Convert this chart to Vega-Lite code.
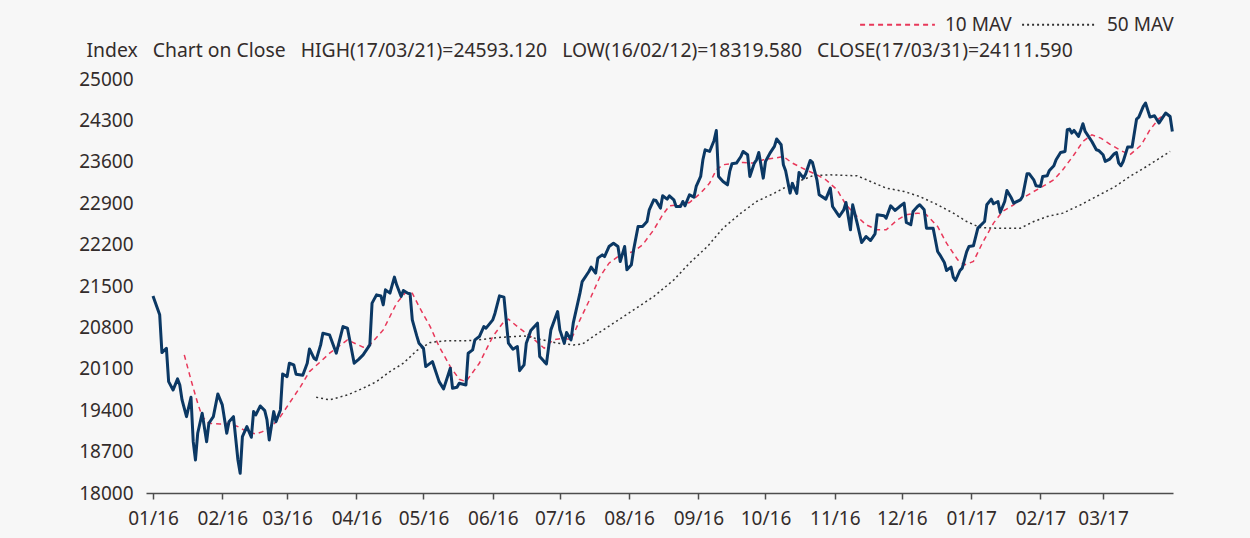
{
  "$schema": "https://vega.github.io/schema/vega-lite/v6.json",
  "autosize": {"type": "none"},
  "width": 1027,
  "height": 414,
  "padding": {"left": 146, "top": 79, "right": 77, "bottom": 45},
  "background": "#f7f7f7",
  "config": {
    "view": {"stroke": null},
    "font": "Noto Sans",
    "axis": {"labelFont": "Noto Sans", "titleFont": "Noto Sans", "labelColor": "#332c2b", "titleColor": "#332c2b"},
    "legend": {"labelFont": "Noto Sans", "labelColor": "#332c2b"}
  },
  "datasets": {
    "close": [
      {"date":"2016-01-01","close":21333},{"date":"2016-01-04","close":21012},{"date":"2016-01-05","close":20374},{"date":"2016-01-07","close":20448},{"date":"2016-01-08","close":19883},{"date":"2016-01-10","close":19743},{"date":"2016-01-12","close":19929},{"date":"2016-01-13","close":19827},{"date":"2016-01-14","close":19574},{"date":"2016-01-16","close":19291},{"date":"2016-01-18","close":19619},{"date":"2016-01-19","close":18868},{"date":"2016-01-20","close":18558},{"date":"2016-01-21","close":19010},{"date":"2016-01-23","close":19348},{"date":"2016-01-25","close":18868},{"date":"2016-01-26","close":19179},{"date":"2016-01-28","close":19291},{"date":"2016-01-30","close":19675},
      {"date":"2016-02-01","close":19489},{"date":"2016-02-03","close":19010},{"date":"2016-02-04","close":19206},{"date":"2016-02-06","close":19291},{"date":"2016-02-08","close":18558},{"date":"2016-02-09","close":18333},{"date":"2016-02-10","close":18952},{"date":"2016-02-12","close":19122},{"date":"2016-02-14","close":18942},{"date":"2016-02-15","close":19376},{"date":"2016-02-16","close":19320},{"date":"2016-02-18","close":19472},{"date":"2016-02-20","close":19393},{"date":"2016-02-21","close":19235},{"date":"2016-02-22","close":18897},{"date":"2016-02-24","close":19376},{"date":"2016-02-25","close":19206},{"date":"2016-02-27","close":19404},{"date":"2016-02-28","close":20013},
      {"date":"2016-03-01","close":19968},{"date":"2016-03-02","close":20194},{"date":"2016-03-04","close":20166},{"date":"2016-03-05","close":20008},{"date":"2016-03-08","close":19991},{"date":"2016-03-10","close":20194},{"date":"2016-03-11","close":20436},{"date":"2016-03-13","close":20279},{"date":"2016-03-14","close":20250},{"date":"2016-03-16","close":20504},{"date":"2016-03-17","close":20702},{"date":"2016-03-20","close":20673},{"date":"2016-03-23","close":20364},{"date":"2016-03-26","close":20814},{"date":"2016-03-28","close":20786},{"date":"2016-03-31","close":20194},
      {"date":"2016-04-02","close":20260},{"date":"2016-04-04","close":20335},{"date":"2016-04-07","close":20504},{"date":"2016-04-08","close":21210},{"date":"2016-04-10","close":21350},{"date":"2016-04-12","close":21330},{"date":"2016-04-13","close":21181},{"date":"2016-04-14","close":21435},{"date":"2016-04-16","close":21380},{"date":"2016-04-18","close":21650},{"date":"2016-04-19","close":21520},{"date":"2016-04-21","close":21322},{"date":"2016-04-22","close":21424},{"date":"2016-04-24","close":21378},{"date":"2016-04-25","close":21370},{"date":"2016-04-26","close":20927},{"date":"2016-04-28","close":20656},{"date":"2016-04-29","close":20533},
      {"date":"2016-05-01","close":20448},{"date":"2016-05-02","close":20137},{"date":"2016-05-05","close":20222},{"date":"2016-05-06","close":20110},{"date":"2016-05-08","close":19883},{"date":"2016-05-10","close":19760},{"date":"2016-05-13","close":20110},{"date":"2016-05-14","close":19771},{"date":"2016-05-16","close":19788},{"date":"2016-05-17","close":19856},{"date":"2016-05-20","close":19827},{"date":"2016-05-21","close":20364},{"date":"2016-05-23","close":20420},{"date":"2016-05-24","close":20589},{"date":"2016-05-26","close":20645},{"date":"2016-05-28","close":20814},{"date":"2016-05-29","close":20787},
      {"date":"2016-06-01","close":20927},{"date":"2016-06-02","close":21040},{"date":"2016-06-04","close":21333},{"date":"2016-06-06","close":21311},{"date":"2016-06-08","close":20533},{"date":"2016-06-10","close":20431},{"date":"2016-06-12","close":20476},{"date":"2016-06-13","close":20069},{"date":"2016-06-15","close":20166},{"date":"2016-06-16","close":20533},{"date":"2016-06-18","close":20746},{"date":"2016-06-21","close":20871},{"date":"2016-06-22","close":20306},{"date":"2016-06-24","close":20222},{"date":"2016-06-25","close":20183},{"date":"2016-06-27","close":20758},{"date":"2016-06-30","close":21068},
      {"date":"2016-07-01","close":20758},{"date":"2016-07-03","close":20533},{"date":"2016-07-04","close":20713},{"date":"2016-07-06","close":20589},{"date":"2016-07-07","close":20871},{"date":"2016-07-09","close":21210},{"date":"2016-07-10","close":21379},{"date":"2016-07-11","close":21575},{"date":"2016-07-14","close":21745},{"date":"2016-07-15","close":21819},{"date":"2016-07-17","close":21717},{"date":"2016-07-18","close":21971},{"date":"2016-07-20","close":22027},{"date":"2016-07-21","close":21998},{"date":"2016-07-23","close":22167},{"date":"2016-07-25","close":22224},{"date":"2016-07-27","close":22167},{"date":"2016-07-28","close":21914},{"date":"2016-07-30","close":22167},{"date":"2016-07-31","close":21773},
      {"date":"2016-08-02","close":21858},{"date":"2016-08-03","close":22112},{"date":"2016-08-05","close":22506},{"date":"2016-08-07","close":22506},{"date":"2016-08-09","close":22590},{"date":"2016-08-10","close":22788},{"date":"2016-08-12","close":22957},{"date":"2016-08-13","close":22946},{"date":"2016-08-15","close":22817},{"date":"2016-08-16","close":23025},{"date":"2016-08-18","close":22969},{"date":"2016-08-19","close":23025},{"date":"2016-08-21","close":22957},{"date":"2016-08-22","close":22844},{"date":"2016-08-24","close":22844},{"date":"2016-08-25","close":22929},{"date":"2016-08-26","close":22856},{"date":"2016-08-28","close":23042},{"date":"2016-08-30","close":23003},{"date":"2016-08-31","close":23183},
      {"date":"2016-09-02","close":23352},{"date":"2016-09-03","close":23634},{"date":"2016-09-04","close":23803},{"date":"2016-09-06","close":23775},{"date":"2016-09-08","close":23961},{"date":"2016-09-09","close":24130},{"date":"2016-09-10","close":23352},{"date":"2016-09-12","close":23267},{"date":"2016-09-14","close":23211},{"date":"2016-09-15","close":23437},{"date":"2016-09-16","close":23567},{"date":"2016-09-18","close":23578},{"date":"2016-09-20","close":23690},{"date":"2016-09-21","close":23775},{"date":"2016-09-23","close":23719},{"date":"2016-09-24","close":23352},{"date":"2016-09-26","close":23578},{"date":"2016-09-27","close":23634},{"date":"2016-09-28","close":23758},{"date":"2016-09-30","close":23324},
      {"date":"2016-10-01","close":23606},{"date":"2016-10-03","close":23747},{"date":"2016-10-05","close":23860},{"date":"2016-10-06","close":23985},{"date":"2016-10-08","close":23888},{"date":"2016-10-09","close":23550},{"date":"2016-10-10","close":23450},{"date":"2016-10-12","close":23071},{"date":"2016-10-13","close":23235},{"date":"2016-10-15","close":23065},{"date":"2016-10-16","close":23420},{"date":"2016-10-18","close":23324},{"date":"2016-10-19","close":23397},{"date":"2016-10-21","close":23623},{"date":"2016-10-22","close":23589},{"date":"2016-10-24","close":23296},{"date":"2016-10-25","close":23042},{"date":"2016-10-28","close":22969},{"date":"2016-10-30","close":23155},{"date":"2016-10-31","close":22844},
      {"date":"2016-11-02","close":22732},{"date":"2016-11-03","close":22675},{"date":"2016-11-05","close":22788},{"date":"2016-11-06","close":22912},{"date":"2016-11-08","close":22450},{"date":"2016-11-09","close":22873},{"date":"2016-11-11","close":22563},{"date":"2016-11-13","close":22235},{"date":"2016-11-15","close":22337},{"date":"2016-11-17","close":22269},{"date":"2016-11-19","close":22382},{"date":"2016-11-20","close":22704},{"date":"2016-11-23","close":22687},{"date":"2016-11-24","close":22648},{"date":"2016-11-26","close":22856},{"date":"2016-11-28","close":22777},{"date":"2016-11-30","close":22844},
      {"date":"2016-12-02","close":22901},{"date":"2016-12-03","close":22574},{"date":"2016-12-05","close":22535},{"date":"2016-12-06","close":22760},{"date":"2016-12-08","close":22844},{"date":"2016-12-09","close":22873},{"date":"2016-12-11","close":22788},{"date":"2016-12-12","close":22478},{"date":"2016-12-15","close":22478},{"date":"2016-12-17","close":22083},{"date":"2016-12-18","close":22027},{"date":"2016-12-20","close":21897},{"date":"2016-12-21","close":21762},{"date":"2016-12-23","close":21819},{"date":"2016-12-24","close":21650},{"date":"2016-12-25","close":21593},{"date":"2016-12-27","close":21762},{"date":"2016-12-28","close":21802},{"date":"2016-12-30","close":22083},{"date":"2016-12-31","close":22167},
      {"date":"2017-01-02","close":22179},{"date":"2017-01-04","close":22478},{"date":"2017-01-07","close":22590},{"date":"2017-01-08","close":22873},{"date":"2017-01-10","close":22969},{"date":"2017-01-11","close":22890},{"date":"2017-01-13","close":22929},{"date":"2017-01-14","close":22743},{"date":"2017-01-16","close":22929},{"date":"2017-01-17","close":23115},{"date":"2017-01-19","close":22986},{"date":"2017-01-20","close":22901},{"date":"2017-01-23","close":22957},{"date":"2017-01-24","close":23013},{"date":"2017-01-26","close":23397},{"date":"2017-01-27","close":23397},{"date":"2017-01-29","close":23296},{"date":"2017-01-30","close":23194},
      {"date":"2017-02-01","close":23183},{"date":"2017-02-02","close":23352},{"date":"2017-02-04","close":23363},{"date":"2017-02-05","close":23454},{"date":"2017-02-07","close":23533},{"date":"2017-02-08","close":23634},{"date":"2017-02-10","close":23758},{"date":"2017-02-12","close":23775},{"date":"2017-02-13","close":24142},{"date":"2017-02-14","close":24153},{"date":"2017-02-15","close":24086},{"date":"2017-02-16","close":24130},{"date":"2017-02-18","close":24029},{"date":"2017-02-19","close":24130},{"date":"2017-02-20","close":24243},{"date":"2017-02-21","close":24113},{"date":"2017-02-23","close":24001},{"date":"2017-02-24","close":23944},{"date":"2017-02-26","close":23803},{"date":"2017-02-27","close":23792},
      {"date":"2017-03-01","close":23719},{"date":"2017-03-02","close":23606},{"date":"2017-03-04","close":23646},{"date":"2017-03-06","close":23736},{"date":"2017-03-07","close":23758},{"date":"2017-03-08","close":23578},{"date":"2017-03-09","close":23533},{"date":"2017-03-10","close":23606},{"date":"2017-03-12","close":23849},{"date":"2017-03-14","close":23849},{"date":"2017-03-16","close":24322},{"date":"2017-03-17","close":24356},{"date":"2017-03-19","close":24536},{"date":"2017-03-20","close":24593},{"date":"2017-03-22","close":24356},{"date":"2017-03-24","close":24378},{"date":"2017-03-26","close":24255},{"date":"2017-03-28","close":24367},{"date":"2017-03-29","close":24424},{"date":"2017-03-31","close":24367},{"date":"2017-04-01","close":24112}
    ],
    "mav": [
      {"date":"2016-01-15","series":"10 MAV","value":20335},{"date":"2016-01-18","series":"10 MAV","value":19912},{"date":"2016-01-21","series":"10 MAV","value":19518},{"date":"2016-01-23","series":"10 MAV","value":19291},{"date":"2016-01-26","series":"10 MAV","value":19179},{"date":"2016-01-31","series":"10 MAV","value":19167},{"date":"2016-02-04","series":"10 MAV","value":19179},{"date":"2016-02-08","series":"10 MAV","value":19122},{"date":"2016-02-12","series":"10 MAV","value":19037},{"date":"2016-02-16","series":"10 MAV","value":18998},{"date":"2016-02-19","series":"10 MAV","value":19037},{"date":"2016-02-23","series":"10 MAV","value":19122},{"date":"2016-02-27","series":"10 MAV","value":19291},{"date":"2016-03-02","series":"10 MAV","value":19518},{"date":"2016-03-07","series":"10 MAV","value":19799},{"date":"2016-03-11","series":"10 MAV","value":20053},{"date":"2016-03-16","series":"10 MAV","value":20222},{"date":"2016-03-20","series":"10 MAV","value":20364},{"date":"2016-03-28","series":"10 MAV","value":20589},{"date":"2016-04-04","series":"10 MAV","value":20465},{"date":"2016-04-07","series":"10 MAV","value":20504},{"date":"2016-04-13","series":"10 MAV","value":20758},{"date":"2016-04-19","series":"10 MAV","value":21210},{"date":"2016-04-23","series":"10 MAV","value":21389},{"date":"2016-04-26","series":"10 MAV","value":21378},{"date":"2016-04-29","series":"10 MAV","value":21153},{"date":"2016-05-04","series":"10 MAV","value":20814},{"date":"2016-05-08","series":"10 MAV","value":20476},{"date":"2016-05-13","series":"10 MAV","value":20137},{"date":"2016-05-17","series":"10 MAV","value":19923},{"date":"2016-05-20","series":"10 MAV","value":19883},{"date":"2016-05-26","series":"10 MAV","value":20194},{"date":"2016-06-01","series":"10 MAV","value":20645},{"date":"2016-06-06","series":"10 MAV","value":20899},{"date":"2016-06-08","series":"10 MAV","value":20939},{"date":"2016-06-12","series":"10 MAV","value":20814},{"date":"2016-06-18","series":"10 MAV","value":20645},{"date":"2016-06-24","series":"10 MAV","value":20448},{"date":"2016-06-28","series":"10 MAV","value":20589},{"date":"2016-07-03","series":"10 MAV","value":20617},{"date":"2016-07-06","series":"10 MAV","value":20589},{"date":"2016-07-10","series":"10 MAV","value":20927},{"date":"2016-07-15","series":"10 MAV","value":21322},{"date":"2016-07-19","series":"10 MAV","value":21660},{"date":"2016-07-23","series":"10 MAV","value":21886},{"date":"2016-07-28","series":"10 MAV","value":22027},{"date":"2016-08-03","series":"10 MAV","value":22083},{"date":"2016-08-07","series":"10 MAV","value":22196},{"date":"2016-08-12","series":"10 MAV","value":22450},{"date":"2016-08-16","series":"10 MAV","value":22704},{"date":"2016-08-19","series":"10 MAV","value":22856},{"date":"2016-08-24","series":"10 MAV","value":22873},{"date":"2016-08-28","series":"10 MAV","value":22912},{"date":"2016-09-02","series":"10 MAV","value":23071},{"date":"2016-09-06","series":"10 MAV","value":23240},{"date":"2016-09-09","series":"10 MAV","value":23465},{"date":"2016-09-12","series":"10 MAV","value":23550},{"date":"2016-09-17","series":"10 MAV","value":23578},{"date":"2016-09-21","series":"10 MAV","value":23589},{"date":"2016-09-26","series":"10 MAV","value":23578},{"date":"2016-09-30","series":"10 MAV","value":23634},{"date":"2016-10-05","series":"10 MAV","value":23662},{"date":"2016-10-09","series":"10 MAV","value":23690},{"date":"2016-10-13","series":"10 MAV","value":23578},{"date":"2016-10-19","series":"10 MAV","value":23465},{"date":"2016-10-24","series":"10 MAV","value":23380},{"date":"2016-10-28","series":"10 MAV","value":23296},{"date":"2016-11-02","series":"10 MAV","value":23127},{"date":"2016-11-06","series":"10 MAV","value":22873},{"date":"2016-11-11","series":"10 MAV","value":22675},{"date":"2016-11-15","series":"10 MAV","value":22535},{"date":"2016-11-20","series":"10 MAV","value":22450},{"date":"2016-11-24","series":"10 MAV","value":22450},{"date":"2016-11-29","series":"10 MAV","value":22619},{"date":"2016-12-03","series":"10 MAV","value":22704},{"date":"2016-12-08","series":"10 MAV","value":22732},{"date":"2016-12-12","series":"10 MAV","value":22704},{"date":"2016-12-17","series":"10 MAV","value":22506},{"date":"2016-12-21","series":"10 MAV","value":22224},{"date":"2016-12-26","series":"10 MAV","value":21942},{"date":"2016-12-29","series":"10 MAV","value":21858},{"date":"2017-01-02","series":"10 MAV","value":21914},{"date":"2017-01-06","series":"10 MAV","value":22224},{"date":"2017-01-11","series":"10 MAV","value":22563},{"date":"2017-01-15","series":"10 MAV","value":22760},{"date":"2017-01-20","series":"10 MAV","value":22873},{"date":"2017-01-24","series":"10 MAV","value":22986},{"date":"2017-01-29","series":"10 MAV","value":23098},{"date":"2017-02-02","series":"10 MAV","value":23183},{"date":"2017-02-07","series":"10 MAV","value":23296},{"date":"2017-02-11","series":"10 MAV","value":23465},{"date":"2017-02-16","series":"10 MAV","value":23719},{"date":"2017-02-20","series":"10 MAV","value":23944},{"date":"2017-02-24","series":"10 MAV","value":24057},{"date":"2017-02-28","series":"10 MAV","value":24000},{"date":"2017-03-04","series":"10 MAV","value":23900},{"date":"2017-03-09","series":"10 MAV","value":23790},{"date":"2017-03-13","series":"10 MAV","value":23719},{"date":"2017-03-18","series":"10 MAV","value":23880},{"date":"2017-03-22","series":"10 MAV","value":24142},{"date":"2017-03-26","series":"10 MAV","value":24330},{"date":"2017-03-29","series":"10 MAV","value":24420},
      {"date":"2016-03-14","series":"50 MAV","value":19619},{"date":"2016-03-20","series":"50 MAV","value":19574},{"date":"2016-03-28","series":"50 MAV","value":19658},{"date":"2016-04-04","series":"50 MAV","value":19771},{"date":"2016-04-10","series":"50 MAV","value":19883},{"date":"2016-04-16","series":"50 MAV","value":20053},{"date":"2016-04-22","series":"50 MAV","value":20194},{"date":"2016-04-28","series":"50 MAV","value":20408},{"date":"2016-05-04","series":"50 MAV","value":20544},{"date":"2016-05-10","series":"50 MAV","value":20572},{"date":"2016-05-23","series":"50 MAV","value":20577},{"date":"2016-06-03","series":"50 MAV","value":20628},{"date":"2016-06-15","series":"50 MAV","value":20656},{"date":"2016-06-22","series":"50 MAV","value":20600},{"date":"2016-06-30","series":"50 MAV","value":20533},{"date":"2016-07-07","series":"50 MAV","value":20504},{"date":"2016-07-11","series":"50 MAV","value":20516},{"date":"2016-07-17","series":"50 MAV","value":20673},{"date":"2016-07-25","series":"50 MAV","value":20871},{"date":"2016-08-03","series":"50 MAV","value":21096},{"date":"2016-08-12","series":"50 MAV","value":21322},{"date":"2016-08-21","series":"50 MAV","value":21604},{"date":"2016-08-28","series":"50 MAV","value":21886},{"date":"2016-09-05","series":"50 MAV","value":22167},{"date":"2016-09-12","series":"50 MAV","value":22478},{"date":"2016-09-20","series":"50 MAV","value":22732},{"date":"2016-09-27","series":"50 MAV","value":22929},{"date":"2016-10-05","series":"50 MAV","value":23071},{"date":"2016-10-12","series":"50 MAV","value":23211},{"date":"2016-10-22","series":"50 MAV","value":23363},{"date":"2016-10-30","series":"50 MAV","value":23380},{"date":"2016-11-11","series":"50 MAV","value":23363},{"date":"2016-11-17","series":"50 MAV","value":23267},{"date":"2016-11-24","series":"50 MAV","value":23155},{"date":"2016-12-02","series":"50 MAV","value":23098},{"date":"2016-12-09","series":"50 MAV","value":23013},{"date":"2016-12-17","series":"50 MAV","value":22873},{"date":"2016-12-24","series":"50 MAV","value":22732},{"date":"2016-12-30","series":"50 MAV","value":22590},{"date":"2017-01-05","series":"50 MAV","value":22489},{"date":"2017-01-12","series":"50 MAV","value":22478},{"date":"2017-01-23","series":"50 MAV","value":22478},{"date":"2017-01-29","series":"50 MAV","value":22590},{"date":"2017-02-04","series":"50 MAV","value":22675},{"date":"2017-02-11","series":"50 MAV","value":22732},{"date":"2017-02-19","series":"50 MAV","value":22873},{"date":"2017-02-26","series":"50 MAV","value":23013},{"date":"2017-03-06","series":"50 MAV","value":23172},{"date":"2017-03-13","series":"50 MAV","value":23352},{"date":"2017-03-21","series":"50 MAV","value":23533},{"date":"2017-03-31","series":"50 MAV","value":23775}
    ]
  },
  "encoding": {
    "x": {
      "field": "date", "type": "temporal",
      "scale": {"type": "utc", "domain": [{"year": 2015, "month": 12, "date": 28, "hours": 21, "utc": true}, {"year": 2017, "month": 4, "date": 1, "hours": 7, "utc": true}]},
      "axis": {
        "title": null,
        "labelExpr": "utcFormat(datum.value, '%m/%y')",
        "values": [
          {"year": 2016, "month": 1, "date": 1, "utc": true}, {"year": 2016, "month": 2, "date": 1, "utc": true}, {"year": 2016, "month": 3, "date": 1, "utc": true}, {"year": 2016, "month": 4, "date": 1, "utc": true}, {"year": 2016, "month": 5, "date": 1, "utc": true}, {"year": 2016, "month": 6, "date": 1, "utc": true}, {"year": 2016, "month": 7, "date": 1, "utc": true}, {"year": 2016, "month": 8, "date": 1, "utc": true}, {"year": 2016, "month": 9, "date": 1, "utc": true}, {"year": 2016, "month": 10, "date": 1, "utc": true}, {"year": 2016, "month": 11, "date": 1, "utc": true}, {"year": 2016, "month": 12, "date": 1, "utc": true}, {"year": 2017, "month": 1, "date": 1, "utc": true}, {"year": 2017, "month": 2, "date": 1, "utc": true}, {"year": 2017, "month": 3, "date": 1, "utc": true}
        ],
        "grid": false, "domainColor": "#4d4d4d", "domainWidth": 1.5, "tickColor": "#4d4d4d", "tickWidth": 1.5, "tickSize": 6,
        "labelFontSize": 19, "labelPadding": 10, "labelFlush": false, "labelOverlap": false
      }
    }
  },
  "layer": [
    {
      "data": {"name": "mav"},
      "mark": {"type": "line", "strokeWidth": 1.5},
      "encoding": {
        "y": {"field": "value", "type": "quantitative"},
        "color": {"field": "series", "type": "nominal", "scale": {"domain": ["10 MAV", "50 MAV"], "range": ["#e8385a", "#333333"]},
          "legend": {"title": null, "orient": "none", "direction": "horizontal", "legendX": 713, "legendY": -93, "symbolType": "stroke", "symbolSize": 5600, "symbolStrokeWidth": 2, "labelFontSize": 19, "labelOffset": 9, "columnPadding": 6, "padding": 0,
            "encode": {"symbols": {"update": {"strokeDash": {"signal": "datum.label === '10 MAV' ? [9, 6] : [3.5, 5]"}}}}}},
        "strokeDash": {"field": "series", "type": "nominal", "scale": {"domain": ["10 MAV", "50 MAV"], "range": [[5, 4], [2, 3]]}, "legend": null}
      }
    },
    {
      "data": {"name": "close"},
      "mark": {"type": "line", "color": "#0b3864", "strokeWidth": 3, "strokeJoin": "round"},
      "encoding": {
        "y": {
          "field": "close", "type": "quantitative",
          "scale": {"domain": [18000, 25000], "nice": false, "zero": false},
          "axis": {
            "title": "Index\u00a0\u00a0\u00a0Chart on Close\u00a0\u00a0\u00a0HIGH(17/03/21)=24593.120\u00a0\u00a0\u00a0LOW(16/02/12)=18319.580\u00a0\u00a0\u00a0CLOSE(17/03/31)=24111.590",
            "titleAngle": 0, "titleAlign": "left", "titleBaseline": "middle", "titleX": -60, "titleY": -29,
            "titleFontSize": 19.35, "titleFontWeight": "normal",
            "values": [18000, 18700, 19400, 20100, 20800, 21500, 22200, 22900, 23600, 24300, 25000],
            "format": "d", "grid": false, "domain": false, "ticks": false, "tickSize": 0,
            "labelFontSize": 19, "labelPadding": 13
          }
        }
      }
    }
  ]
}
